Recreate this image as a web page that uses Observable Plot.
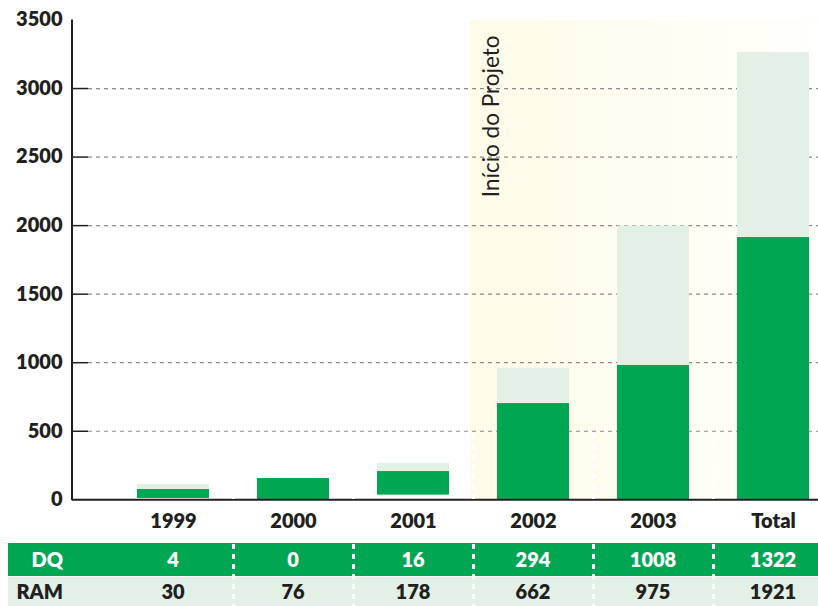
<!DOCTYPE html>
<html><head><meta charset="utf-8">
<script src="https://cdn.jsdelivr.net/npm/d3@7"></script>
<script src="https://cdn.jsdelivr.net/npm/@observablehq/plot@0.6"></script>
<style>
html,body{margin:0;padding:0;background:#fff;overflow:hidden;}
#wrap{position:relative;width:818px;height:606px;overflow:hidden;font-family:Lato,"Open Sans",sans-serif;color:#231f20;}
#wrap svg{position:absolute;left:0;top:0;}
.row{position:absolute;left:8px;width:810px;}
.cell{position:absolute;transform:translateX(-50%);font-weight:800;font-size:20px;line-height:1;white-space:nowrap;}
.lab{position:absolute;left:0;width:63px;text-align:right;font-weight:800;font-size:20px;line-height:1;}
.sep{position:absolute;width:3px;background:repeating-linear-gradient(to bottom,#fff 0 5px,transparent 5px 10px);}
</style></head><body><div id="wrap"></div>
<script>
// ---- data ----
const years = ["1999", "2000", "2001", "2002", "2003", "Total"];
const dqTable = [4, 0, 16, 294, 1008, 1322];
const ramTable = [30, 76, 178, 662, 975, 1921];
// bar segments as drawn in the picture
const ramBarBottom = [10, 0, 34, 0, 0, 0];
const ramBarTop = [75, 155, 206, 702, 980, 1913];
const dqBarTop = [112, 155, 265, 958, 1997, 3263];
const yTicks = [0, 500, 1000, 1500, 2000, 2500, 3000, 3500];
const gridTicks = [500, 1000, 1500, 2000, 2500, 3000];
const projectYears = ["2002", "2003", "Total"];
const projectLabel = "Início do Projeto";
const rowLabels = ["DQ", "RAM"];

const bars = years.map((year, i) => ({year, low: ramBarBottom[i], mid: ramBarTop[i], high: dqBarTop[i]}));

const dark = "#00a651", light = "#e2f0e6", ink = "#231f20";

const plot = Plot.plot({
  width: 818, height: 540,
  marginTop: 19.5, marginBottom: 40.7, marginLeft: 72, marginRight: 0,
  style: {fontFamily: "Lato, 'Open Sans', sans-serif", fontSize: "20px", fontWeight: "800", color: ink, background: "transparent", overflow: "hidden"},
  x: {type: "band", domain: years, range: [112, 833], paddingInner: 0.4, paddingOuter: 0.2, tickSize: 0, tickPadding: 14, label: null},
  y: {domain: [0, 3500], ticks: yTicks, tickSize: 0, tickPadding: 10, label: null, tickFormat: d => String(d)},
  marks: [
    Plot.barY(projectYears, {x: d => d, y1: 0, y2: 3500, fill: "url(#projGrad)", insetLeft: -27, insetRight: -24}),
    Plot.ruleY(gridTicks, {y: d => d, stroke: "#8a8a8a", strokeWidth: 1.2, strokeDasharray: "4,4", insetLeft: 16}),
    Plot.ruleY(gridTicks, {y: d => d, stroke: ink, strokeWidth: 1.5, insetRight: 730}),
    Plot.barY(bars, {x: "year", y1: "mid", y2: "high", fill: light}),
    Plot.barY(bars, {x: "year", y1: "low", y2: "mid", fill: dark}),
    Plot.ruleY([0], {stroke: ink, strokeWidth: 2}),
    Plot.text([projectLabel], {x: () => "2002", y: () => 3500, text: d => d, rotate: -90, textAnchor: "end", lineAnchor: "middle", dx: -41.5, dy: 15.5, fontWeight: "normal", fontSize: 22.5, fill: ink})
  ]
});

const wrap = document.getElementById("wrap");
wrap.appendChild(plot);
const xs = plot.scale("x"), ys = plot.scale("y");
const bw = xs.bandwidth, step = xs.step;

d3.select(plot).insert("defs", ":first-child").html(
  `<linearGradient id="projGrad" gradientUnits="userSpaceOnUse" x1="${xs.apply("2002") - 27}" x2="818" y1="0" y2="0">
     <stop offset="0" stop-color="#fffbe8"/><stop offset="0.5" stop-color="#fffdf2"/><stop offset="1" stop-color="#fffffb"/>
   </linearGradient>`);

d3.select(plot).append("line")
  .attr("x1", 72).attr("x2", 72)
  .attr("y1", ys.apply(3500)).attr("y2", ys.apply(0) + 1)
  .attr("stroke", ink).attr("stroke-width", 2);

// ---- table below ----
const rowDefs = [
  {label: rowLabels[0], values: dqTable, top: 543, h: 33, bg: dark, fg: "#fff"},
  {label: rowLabels[1], values: ramTable, top: 577, h: 29, bg: light, fg: ink}
];
rowDefs.forEach(r => {
  const row = document.createElement("div");
  row.className = "row";
  row.style.top = r.top + "px"; row.style.height = r.h + "px"; row.style.background = r.bg;
  wrap.appendChild(row);
  const lab = document.createElement("div");
  lab.className = "lab"; lab.textContent = r.label; lab.style.color = r.fg;
  lab.style.top = (r.top + r.h / 2 - 10.5) + "px";
  wrap.appendChild(lab);
  years.forEach((y, i) => {
    const c = document.createElement("div");
    c.className = "cell"; c.textContent = r.values[i]; c.style.color = r.fg;
    c.style.left = (xs.apply(y) + bw / 2) + "px";
    c.style.top = (r.top + r.h / 2 - 10.5) + "px";
    wrap.appendChild(c);
  });
});
years.slice(1).forEach(y => {
  const s = document.createElement("div");
  s.className = "sep";
  s.style.left = (xs.apply(y) - (step - bw) / 2 - 1.5) + "px";
  s.style.top = (ys.apply(500) + 3) + "px";
  s.style.height = (606 - ys.apply(500) - 3) + "px";
  wrap.appendChild(s);
});
</script></body></html>
